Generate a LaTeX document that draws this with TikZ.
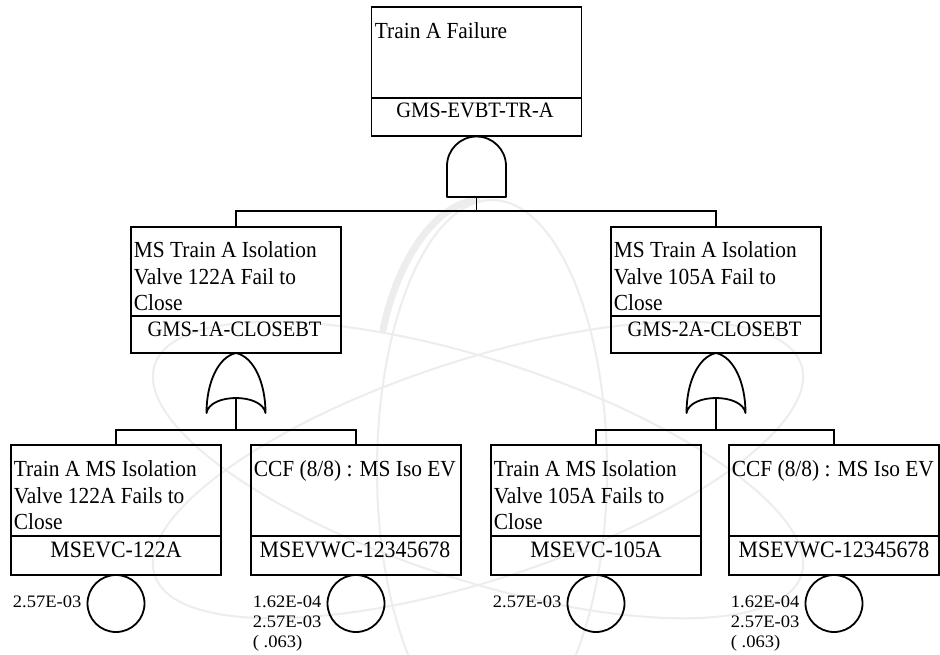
\documentclass[tikz,border=0pt]{standalone}
\usepackage{fontspec}
\setmainfont{Liberation Serif}
\newfontfamily\ftnarrow[FakeStretch=0.93]{Liberation Serif}
\newfontfamily\ftwide[FakeStretch=1.06]{Liberation Serif}
\usetikzlibrary{calc}

\begin{document}
\begin{tikzpicture}[x=1pt,y=-1pt,
  line width=1.8pt,
  box/.style={draw, rectangle, minimum width=210pt, inner sep=0pt, outer sep=0pt},
  desc/.style={anchor=north west, inner sep=0pt, align=left,
    font=\ftnarrow\fontsize{23}{26.5}\selectfont},
  gcode/.style={anchor=base, inner sep=0pt, font=\ftnarrow\fontsize{22}{24}\selectfont},
  ecode/.style={anchor=base, inner sep=0pt, font=\ftnarrow\fontsize{23.5}{26}\selectfont},
  prob/.style={anchor=north west, inner sep=0pt, align=left,
    font=\ftwide\fontsize{17.5}{20}\selectfont},
  basic/.style={draw, circle, minimum size=57pt, inner sep=0pt, outer sep=0pt},
  gate/.style={draw, line join=round},
  wm/.style={draw=black!7, line width=2pt}
]
\useasboundingbox[fill=white] (0,0) rectangle (940,655);

% faint atom emblem in the background
\draw[wm] (492,470) ellipse [x radius=115, y radius=270];
\draw[wm, rotate around={18:(478,470)}] (478,470) ellipse [x radius=340, y radius=110];
\draw[wm, rotate around={-18:(478,470)}] (478,470) ellipse [x radius=340, y radius=110];
\draw[draw=black!7, line width=7pt, line cap=round]
  (383,330) .. controls (395,270) and (430,205) .. (477,200);

% ---------- top event ----------
\node[box, minimum height=129pt] (T) at (476.5,71.5) {};
\draw ($(T.north west)+(0,91)$) -- ($(T.north east)+(0,91)$);
\node[desc] (Td) at (374,21) {\rule{0pt}{17pt}Train A Failure};
\node[gcode] (Tc) at (475,118) {GMS-EVBT-TR-A};

% AND gate
\draw[gate] (447,197) -- (447,166)
  .. controls (447,149.7) and (460.2,136.5) .. (476.5,136.5)
  .. controls (492.8,136.5) and (506,149.7) .. (506,166) -- (506,197) -- cycle;
\coordinate (ANDo) at (476.5,197);
\coordinate (ANDb) at (476.5,211);

% ---------- intermediate events ----------
\node[box, minimum height=126pt] (M1) at (236,290) {};
\draw ($(M1.north west)+(0,89)$) -- ($(M1.north east)+(0,89)$);
\node[desc] (M1d) at (133,240)
  {\rule{0pt}{17pt}MS Train A Isolation\\Valve 122A Fail to\\Close};
\node[gcode] (M1c) at (234.5,336) {GMS-1A-CLOSEBT};

\node[box, minimum height=126pt] (M2) at (716,290) {};
\draw ($(M2.north west)+(0,89)$) -- ($(M2.north east)+(0,89)$);
\node[desc] (M2d) at (613,240)
  {\rule{0pt}{17pt}MS Train A Isolation\\Valve 105A Fail to\\Close};
\node[gcode] (M2c) at (714.5,336) {GMS-2A-CLOSEBT};

\draw (ANDo) -- (ANDb);
\draw (M1.north) |- (ANDb) -| (M2.north);

% OR gates
\foreach \cx/\g in {236/ORa, 716/ORb}{
  \begin{scope}[shift={(\cx,353)}]
    \draw[gate] (0,0) .. controls (-18,4) and (-29.5,30) .. (-29.5,60)
      .. controls (-26,40) and (26,40) .. (29.5,60)
      .. controls (29.5,30) and (18,4) .. (0,0) -- cycle;
    \coordinate (\g o) at (0,44);
    \coordinate (\g b) at (0,77);
  \end{scope}
}

% ---------- basic events ----------
\node[box, minimum height=130pt] (B1) at (116,510) {};
\draw ($(B1.north west)+(0,91)$) -- ($(B1.north east)+(0,91)$);
\node[desc] (B1d) at (13,459)
  {\rule{0pt}{17pt}Train A MS Isolation\\Valve 122A Fails to\\Close};
\node[ecode] (B1c) at (116,557) {MSEVC-122A};
\node[basic] (B1e) at (116,603.5) {};
\node[prob] (B1p) at (12,594) {\rule{0pt}{13pt}2.57E-03};

\node[box, minimum height=130pt] (B2) at (356,510) {};
\draw ($(B2.north west)+(0,91)$) -- ($(B2.north east)+(0,91)$);
\node[desc] (B2d) at (253,459) {\rule{0pt}{17pt}CCF (8/8) : MS Iso EV};
\node[ecode] (B2c) at (355,557) {MSEVWC-12345678};
\node[basic] (B2e) at (356,603.5) {};
\node[prob] (B2p) at (252,594)
  {\rule{0pt}{13pt}1.62E-04\\2.57E-03\\( .063)};

\node[box, minimum height=130pt] (B3) at (596,510) {};
\draw ($(B3.north west)+(0,91)$) -- ($(B3.north east)+(0,91)$);
\node[desc] (B3d) at (493,459)
  {\rule{0pt}{17pt}Train A MS Isolation\\Valve 105A Fails to\\Close};
\node[ecode] (B3c) at (596,557) {MSEVC-105A};
\node[basic] (B3e) at (596,603.5) {};
\node[prob] (B3p) at (492,594) {\rule{0pt}{13pt}2.57E-03};

\node[box, minimum height=130pt] (B4) at (834,510) {};
\draw ($(B4.north west)+(0,91)$) -- ($(B4.north east)+(0,91)$);
\node[desc] (B4d) at (731,459) {\rule{0pt}{17pt}CCF (8/8) : MS Iso EV};
\node[ecode] (B4c) at (834,557) {MSEVWC-12345678};
\node[basic] (B4e) at (834,603.5) {};
\node[prob] (B4p) at (730,594)
  {\rule{0pt}{13pt}1.62E-04\\2.57E-03\\( .063)};

% OR gate outputs to their inputs
\draw (ORao) -- (ORab);
\draw (B1.north) |- (ORab) -| (B2.north);
\draw (ORbo) -- (ORbb);
\draw (B3.north) |- (ORbb) -| (B4.north);
\end{tikzpicture}
\end{document}
